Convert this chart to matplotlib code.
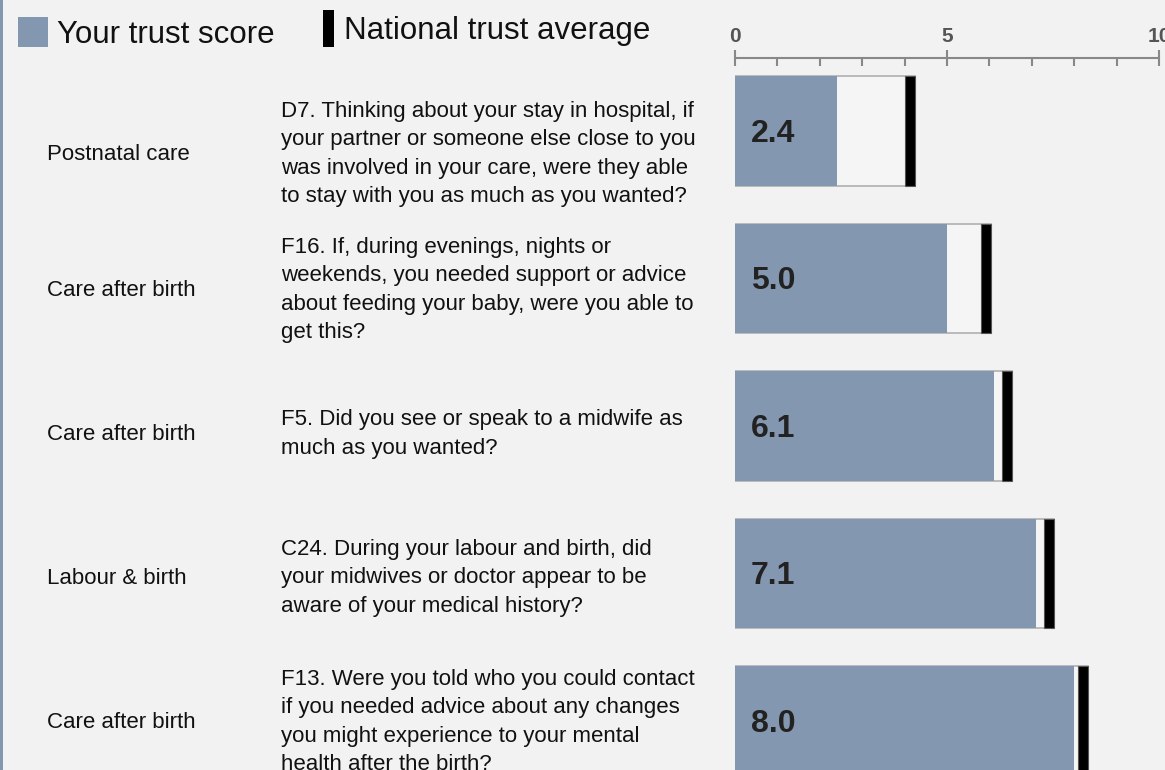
import matplotlib.pyplot as plt
from matplotlib.patches import Rectangle

plt.rcParams['font.family'] = ['Liberation Sans', 'DejaVu Sans']

# data
sections = ['Postnatal care', 'Care after birth', 'Care after birth',
            'Labour & birth', 'Care after birth']
questions = [
    'D7. Thinking about your stay in hospital, if\nyour partner or someone else close to you\n'
    'was involved in your care, were they able\nto stay with you as much as you wanted?',
    'F16. If, during evenings, nights or\nweekends, you needed support or advice\n'
    'about feeding your baby, were you able to\nget this?',
    'F5. Did you see or speak to a midwife as\nmuch as you wanted?',
    'C24. During your labour and birth, did\nyour midwives or doctor appear to be\n'
    'aware of your medical history?',
    'F13. Were you told who you could contact\nif you needed advice about any changes\n'
    'you might experience to your mental\nhealth after the birth?',
]
trust_score = [2.4, 5.0, 6.1, 7.1, 8.0]
national_avg = [4.13, 5.92, 6.41, 7.41, 8.21]

# vertical centres of the text rows (pixels from top)
text_rows = [154, 290, 434, 578, 722]

bg = '#f2f2f2'
bar_col = '#8497b0'
W, H = 1165, 770

fig = plt.figure(figsize=(W / 100, H / 100), dpi=100, facecolor=bg)

# axes area: x 735..1159 px, y 58..770 px
ax = fig.add_axes([735 / W, 0, (1159 - 735) / W, 1 - 58 / H])
ax.set_facecolor(bg)
ax.set_xlim(0, 10)
ax.set_ylim(4.332, -0.495)

mw = 0.24  # width of national marker
for i in range(len(trust_score)):
    s = trust_score[i]
    n = national_avg[i]
    ax.barh(i, n + mw / 2, height=0.74, color='#f5f5f5', edgecolor='#b0b0b0', linewidth=1.2, zorder=1)
    ax.barh(i, s, height=0.74, color=bar_col, edgecolor='none', zorder=2)
    ax.barh(i, mw, left=n - mw / 2, height=0.74, color='black', edgecolor='#555555', linewidth=0.8, zorder=3)
    ax.text(0.38, i + 0.02, f'{s:.1f}', fontsize=23, fontweight='bold', color='#222222',
            va='center', ha='left', zorder=4)
    fig.text(47 / W, 1 - text_rows[i] / H, sections[i], fontsize=16, color='#111111',
             va='center', ha='left')
    fig.text(281 / W, 1 - text_rows[i] / H, questions[i], fontsize=16, color='#111111',
             va='center', ha='left', linespacing=1.47)

# top axis
for sp in ['left', 'right', 'bottom']:
    ax.spines[sp].set_visible(False)
ax.spines['top'].set_color('#888888')
ax.spines['top'].set_linewidth(1.5)
ax.xaxis.tick_top()
ax.set_xticks([0, 5, 10])
ax.set_xticks(range(11), minor=True)
ax.tick_params(axis='x', which='major', direction='inout', length=12, width=1.5, color='#888888',
               labelsize=15, labelcolor='#555555', pad=3)
ax.tick_params(axis='x', which='minor', direction='in', length=6, width=1.5, color='#888888')
for lab in ax.get_xticklabels():
    lab.set_fontweight('bold')
ax.set_yticks([])

# legend
fig.patches.append(Rectangle((18 / W, 1 - 47 / H), 30 / W, 30 / H, transform=fig.transFigure,
                             facecolor=bar_col, edgecolor='none'))
fig.text(57 / W, 1 - 35 / H, 'Your trust score', fontsize=22.5, color='#111111', va='center', ha='left')
fig.patches.append(Rectangle((323 / W, 1 - 47 / H), 11 / W, 37 / H, transform=fig.transFigure,
                             facecolor='black', edgecolor='none'))
fig.text(344 / W, 1 - 31 / H, 'National trust average', fontsize=22.5, color='#111111', va='center', ha='left')

# left border
fig.patches.append(Rectangle((0, 0), 3 / W, 1, transform=fig.transFigure,
                             facecolor=bar_col, edgecolor='none'))

fig.savefig('out.png', dpi=100, facecolor=bg)
